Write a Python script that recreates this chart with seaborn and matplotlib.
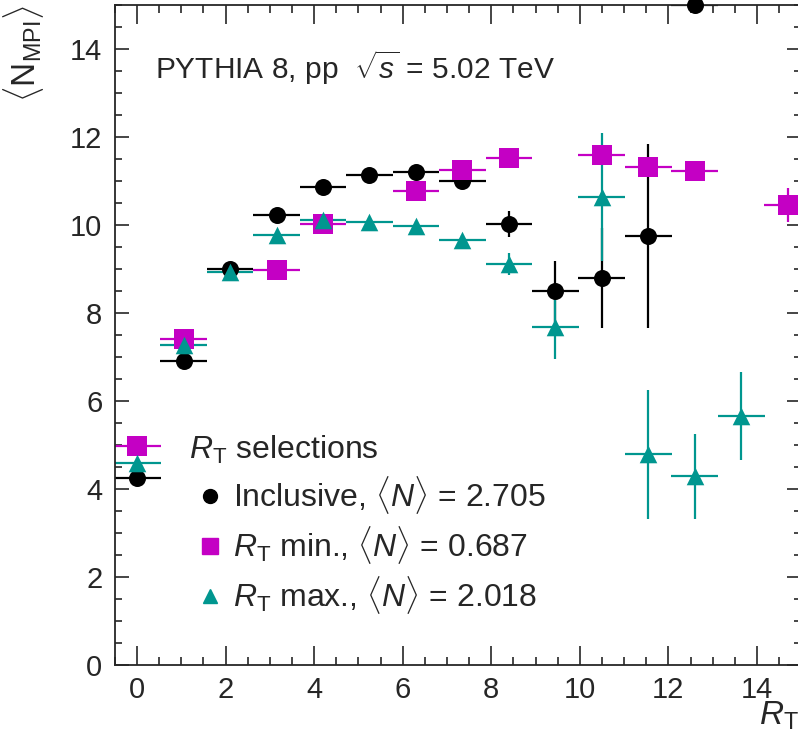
import numpy as np
import pandas as pd
import matplotlib
matplotlib.use("Agg")
import matplotlib.pyplot as plt
import seaborn as sns
from matplotlib.ticker import MultipleLocator
from matplotlib.lines import Line2D

# R_T bin centres and half widths
rt_bins = [0.0, 1.05, 2.1, 3.15, 4.2, 5.25, 6.3, 7.35, 8.4, 9.45, 10.5, 11.55, 12.6, 13.65, 14.7]
rt_halfwidth = 0.53

# <N_MPI> per selection (nan = no point)
incl_mean = [4.25, 6.92, 9.0, 10.22, 10.86, 11.13, 11.2, 11.0, 10.02, 8.49, 8.79, 9.75, 15.0, np.nan, np.nan]
incl_err = [0.03, 0.03, 0.04, 0.05, 0.06, 0.08, 0.1, 0.15, 0.3, 0.69, 1.14, 2.1, 0.0, np.nan, np.nan]

min_mean = [4.98, 7.42, np.nan, 8.97, 10.02, np.nan, 10.77, 11.26, 11.52, np.nan, 11.6, 11.32, 11.22, np.nan, 10.45]
min_err = [0.03, 0.05, np.nan, 0.08, 0.1, np.nan, 0.12, 0.15, 0.15, np.nan, 0.2, 0.2, 0.15, np.nan, 0.38]

max_mean = [4.6, 7.28, 8.93, 9.78, 10.12, 10.06, 9.98, 9.66, 9.12, 7.69, 10.63, 4.79, 4.29, 5.66, np.nan]
max_err = [0.03, 0.04, 0.05, 0.06, 0.08, 0.08, 0.1, 0.12, 0.25, 0.73, 1.45, 1.47, 0.97, 1.0, np.nan]

labels = ["Inclusive, $\\langle N\\rangle$ = 2.705",
          "$R_{\\mathrm{T}}$ min., $\\langle N\\rangle$ = 0.687",
          "$R_{\\mathrm{T}}$ max., $\\langle N\\rangle$ = 2.018"]
colors = ["black", "#C400C4", "#00968F"]
markers = ["o", "s", "^"]
sizes = [150, 200, 160]

sns.set_style("ticks")
plt.rcParams["font.family"] = ["Liberation Sans", "DejaVu Sans"]
plt.rcParams["mathtext.fontset"] = "custom"
plt.rcParams["mathtext.rm"] = "Liberation Sans"
plt.rcParams["mathtext.it"] = "Liberation Sans:italic"
plt.rcParams["mathtext.bf"] = "Liberation Sans:bold"

fig = plt.figure(figsize=(7.98, 7.35), dpi=100)
ax = fig.add_axes([0.144, 0.0952, 0.86, 0.898])

series = [(incl_mean, incl_err), (min_mean, min_err), (max_mean, max_err)]
for (mean, err), lab, col, mk, sz in zip(series, labels, colors, markers, sizes):
    df = pd.DataFrame({"rt": rt_bins, "n": mean, "err": err}).dropna()
    ax.errorbar(df["rt"], df["n"], xerr=rt_halfwidth, yerr=df["err"], fmt="none",
                ecolor=col, elinewidth=1.6, capsize=0, zorder=2)
    sns.scatterplot(data=df, x="rt", y="n", marker=mk, color=col, s=sz,
                    edgecolor=col, linewidth=0, ax=ax, zorder=3, clip_on=False)

ax.set_xlim(-0.5, 15.0)
ax.set_ylim(0, 15)
ax.xaxis.set_major_locator(MultipleLocator(2))
ax.xaxis.set_minor_locator(MultipleLocator(0.5))
ax.yaxis.set_major_locator(MultipleLocator(2))
ax.yaxis.set_minor_locator(MultipleLocator(0.5))
ax.tick_params(which="both", direction="in", top=True, right=True, width=1.2, labelsize=21)
ax.tick_params(axis="x", which="major", length=14, pad=8)
ax.tick_params(axis="x", which="minor", length=6)
ax.tick_params(axis="y", which="major", length=10, pad=9)
ax.tick_params(axis="y", which="minor", length=5)
for sp in ax.spines.values():
    sp.set_linewidth(1.3)

ax.set_xlabel("$R_{\\mathrm{T}}$", fontsize=24, loc="right")
ax.xaxis.set_label_coords(0.996, -0.052)
ax.set_ylabel("$\\langle \\mathrm{N}_{\\mathrm{MPI}}\\rangle$", fontsize=24, loc="top")
ax.yaxis.set_label_coords(-0.1, 1.0)

ax.text(0.058, 0.905, "PYTHIA 8, pp  $\\sqrt{s}$ = 5.02 TeV", transform=ax.transAxes,
        fontsize=21.5, va="center", ha="left")

handles = [Line2D([], [], linestyle="none", marker=m, color=c, markersize=ms)
           for m, c, ms in zip(markers, colors, [10, 11, 10])]
leg = ax.legend(handles, labels, title="$R_{\\mathrm{T}}$ selections", loc="upper left",
                bbox_to_anchor=(0.108, 0.35), frameon=False, fontsize=23,
                title_fontsize=23, handlelength=1.3, handletextpad=0.07,
                labelspacing=0.25, alignment="left", borderaxespad=0, borderpad=0)

fig.savefig("out.png", dpi=100)
